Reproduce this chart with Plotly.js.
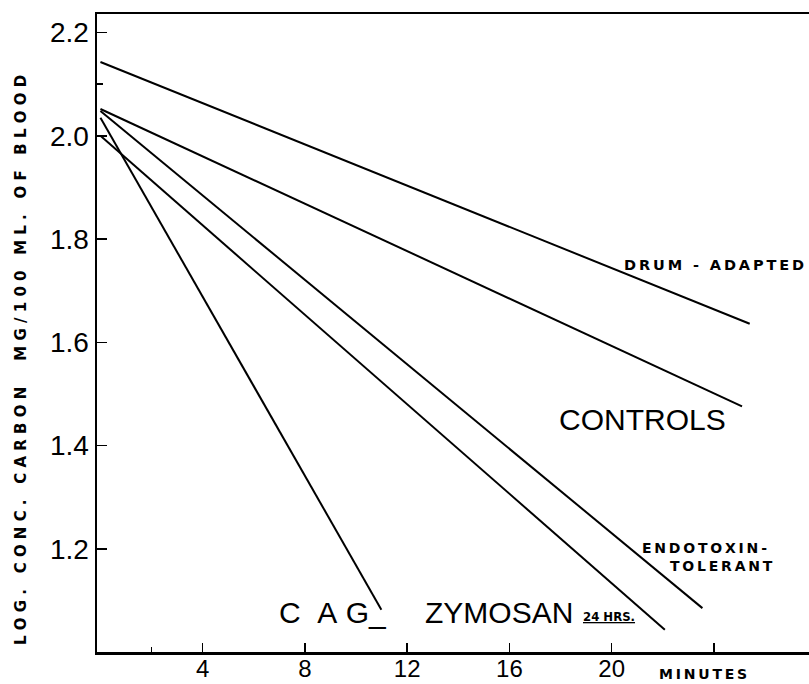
<!DOCTYPE html>
<html>
<head>
<meta charset="utf-8">
<script src="https://cdn.plot.ly/plotly-3.0.1.min.js"></script>
<style>html,body{margin:0;padding:0;background:#fff;}#chart{width:809px;height:684px;}</style>
</head>
<body>
<div id="chart"></div>
<script>
// Data (x = minutes, y = log conc. carbon)
const drumX = [0, 25.4];
const drumY = [2.143, 1.636];
const controlsX = [0, 25.1];
const controlsY = [2.052, 1.476];
const endoX = [0, 23.55];
const endoY = [2.048, 1.085];
const zymX = [0, 22.08];
const zymY = [2.0, 1.043];
const cagX = [0, 10.99];
const cagY = [2.035, 1.082];

const xTickVals = [4, 8, 12, 16, 20, 24];
const xTickText = ['4', '8', '12', '16', '20', ''];
const yTickVals = [1.2, 1.4, 1.6, 1.8, 2.0, 2.2];
const yTickText = ['1.2', '1.4', '1.6', '1.8', '2.0', '2.2'];
const yTitle = 'LOG. CONC. CARBON  MG/100 ML. OF BLOOD';

const lineStyle = {color: '#000', width: 2};
function tr(x, y, name) {
  return {x: x, y: y, mode: 'lines', name: name, line: lineStyle, hoverinfo: 'skip', showlegend: false};
}
const traces = [
  tr(drumX, drumY, 'Drum-adapted'),
  tr(controlsX, controlsY, 'Controls'),
  tr(endoX, endoY, 'Endotoxin-tolerant'),
  tr(zymX, zymY, 'Zymosan 24 hrs'),
  tr(cagX, cagY, 'CAG')
];

const NB = '\u00A0';
const TH = '\u2009';
function spaced(s, sep, wordGap) { return s.split('').map(c => c === ' ' ? wordGap : c).join(sep); }

const boldLabel = {family: 'DejaVu Sans, sans-serif', size: 14, color: '#000', weight: 700};
const narrowBig = {family: 'Liberation Sans Narrow, Liberation Sans, sans-serif', size: 30, color: '#000'};

const annotations = [
  {x: 622, y: 265, text: spaced('DRUM - ADAPTED', TH, NB), font: {family: 'DejaVu Sans, sans-serif', size: 14.5, color: '#000', weight: 700}},
  {x: 557, y: 419, text: 'CONTROLS', font: narrowBig},
  {x: 640, y: 548, text: spaced('ENDOTOXIN-', TH, NB), font: boldLabel},
  {x: 668, y: 566, text: spaced('TOLERANT', TH, NB), font: boldLabel},
  {x: 277, y: 612, text: 'C' + NB + NB + 'A' + NB + 'G_', font: narrowBig},
  {x: 423, y: 612, text: 'ZYMOSAN', font: narrowBig},
  {x: 581, y: 616, text: '<u>24 HRS.</u>', font: {family: 'DejaVu Sans Condensed, DejaVu Sans, sans-serif', size: 13, color: '#000', weight: 700}},
  {x: 657, y: 674, text: spaced('MINUTES', TH, NB), font: boldLabel},
  {x: 21, y: 360, xanchor: 'center', textangle: -90, text: spaced(yTitle, NB, NB),
   font: {family: 'DejaVu Sans, sans-serif', size: 15, color: '#000', weight: 700}}
];
// convert pixel placements of labels to paper coords
const W = 809, H = 684, L = 97, R = 0, T = 14, B = 32;
annotations.forEach(a => {
  a.xref = 'paper'; a.yref = 'paper';
  a.showarrow = false; a.xanchor = a.xanchor || 'left'; a.yanchor = 'middle';
  a.x = (a.x - L) / (W - L - R);
  a.y = 1 - (a.y - T) / (H - T - B);
});

const layout = {
  width: W, height: H,
  margin: {l: L, r: R, t: T, b: B, pad: 0},
  paper_bgcolor: '#fff', plot_bgcolor: '#fff',
  showlegend: false,
  xaxis: {
    range: [-0.135, 27.72],
    tickmode: 'array', tickvals: xTickVals, ticktext: xTickText,
    ticks: 'inside', ticklen: 9, tickwidth: 1.5, tickcolor: '#000',
    showline: true, linecolor: '#000', linewidth: 2.5, mirror: true,
    showgrid: false, zeroline: false,
    tickfont: {family: 'Liberation Sans, sans-serif', size: 24, color: '#000'},
    ticklabelstandoff: -6,
    minor: {tickmode: 'array', tickvals: [2], ticks: 'inside', ticklen: 5, tickcolor: '#000', tickwidth: 1.5, showgrid: false}
  },
  yaxis: {
    range: [1.0, 2.236],
    tickmode: 'array', tickvals: yTickVals, ticktext: yTickText,
    ticks: 'inside', ticklen: 10, tickwidth: 1.5, tickcolor: '#000',
    showline: true, linecolor: '#000', linewidth: 2.5, mirror: false,
    showgrid: false, zeroline: false,
    tickfont: {family: 'Liberation Sans, sans-serif', size: 28, color: '#000'},
    minor: {tickmode: 'array', tickvals: [2.1], ticks: 'inside', ticklen: 6, tickcolor: '#000', tickwidth: 1.5, showgrid: false}
  },
  annotations: annotations
};

Plotly.newPlot('chart', traces, layout, {staticPlot: true, displayModeBar: false});
</script>
</body>
</html>
